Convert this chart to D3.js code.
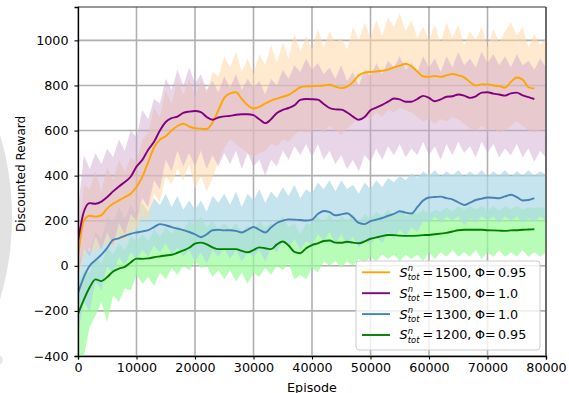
<!DOCTYPE html>
<html>
<head>
<meta charset="utf-8">
<script src="https://cdn.jsdelivr.net/npm/d3@7"></script>
<style>
body { margin: 0; background: #fff; }
svg text { font-family: "DejaVu Sans", sans-serif; fill: #000; }
</style>
</head>
<body>
<svg id="chart" width="569" height="393"></svg>
<script>
// raw episodes for the noisy bands: 0..80000 every 1000
var bandEpisodes = d3.range(0, 80001, 1000);
// smoothed curves stop at 78000
var lineEpisodes = d3.range(0, 78001, 1000);

var xTicks = [0, 10000, 20000, 30000, 40000, 50000, 60000, 70000, 80000];
var yTicks = [-400, -200, 0, 200, 400, 600, 800, 1000];

// smoothed (moving average) curves
var orangeMean = [35,200,222,218,225,255,275,290,305,320,
	350,395,460,525,560,575,600,620,630,618,
	610,608,607,635,690,745,765,770,740,712,
	698,705,720,733,742,750,758,775,792,796,
	797,798,800,803,795,788,795,815,845,857,
	860,862,865,870,880,888,896,885,862,840,
	838,842,838,845,851,845,836,815,800,805,
	805,800,797,790,815,835,826,792,786];
var purpleMean = [108,240,278,275,285,305,330,352,372,395,
	440,470,515,550,600,638,655,662,678,684,
	687,682,660,648,658,663,665,670,672,672,
	668,650,633,650,678,692,700,712,736,740,
	739,737,718,700,694,693,680,662,648,660,
	690,702,714,728,742,738,728,728,740,754,
	745,730,738,750,752,760,755,745,752,768,
	770,764,760,755,765,768,756,748,740];
var blueMean = [-121,-50,0,25,50,80,115,122,133,142,
	148,153,158,172,185,180,172,165,158,150,
	140,127,140,158,160,157,158,155,148,160,
	172,160,148,170,190,200,206,205,203,201,
	205,230,243,238,224,228,233,215,190,185,
	198,205,212,222,230,242,236,232,260,290,
	303,305,307,300,295,282,270,280,292,298,
	303,302,300,308,315,305,290,292,300];
var greenMean = [-214,-150,-95,-60,-68,-50,-25,-12,-5,15,
	32,31,33,38,42,46,49,58,68,80,
	98,103,95,82,74,74,74,74,66,60,
	70,82,78,74,95,108,90,62,56,78,
	92,100,110,112,103,102,107,103,100,108,
	120,126,132,137,136,134,133,133,134,136,
	137,140,143,146,152,158,160,160,160,160,
	158,157,156,155,157,158,160,161,162];

// raw reward envelopes (low / high)
var orangeHi = [150,360,340,420,330,440,380,470,420,480,
	460,560,590,700,660,780,720,820,760,830,
	750,820,770,860,840,930,880,950,860,920,
	850,940,890,980,900,990,920,1030,950,1020,
	960,1050,970,1040,990,1010,960,1060,1000,1080,
	1010,1090,1020,1100,1060,1120,1040,1090,1010,1060,
	1000,1070,990,1080,1010,1070,980,1040,1000,1060,
	970,1050,990,1040,1080,1020,1060,970,1030,980,1010];
var orangeLo = [-60,50,80,60,90,100,80,120,110,150,
	160,220,200,320,280,400,360,430,380,450,
	340,400,330,390,460,520,560,540,520,500,
	480,500,510,540,530,560,550,580,600,590,
	600,610,590,620,600,580,610,630,650,660,
	650,680,660,690,680,700,690,680,660,640,
	650,630,650,640,660,650,630,610,600,620,
	600,610,590,600,620,640,620,600,590,600,610];
var purpleHi = [250,490,430,500,450,520,480,560,510,600,
	570,690,650,740,720,830,780,870,800,880,
	810,850,780,820,770,840,790,850,780,830,
	790,820,760,830,800,870,830,890,860,920,
	870,900,850,880,830,890,820,860,800,870,
	840,900,850,910,880,930,870,900,860,930,
	880,920,860,930,880,950,890,920,880,950,
	900,940,890,930,880,940,890,910,870,920,880];
var purpleLo = [-50,80,40,130,70,150,90,190,140,230,
	200,300,260,380,340,470,420,510,440,500,
	440,510,430,490,440,500,450,510,430,500,
	440,470,400,470,440,510,470,530,490,540,
	480,540,470,510,450,490,430,470,420,490,
	460,520,470,530,490,540,480,520,490,550,
	490,530,470,540,490,550,500,530,480,550,
	500,540,480,520,490,540,480,520,460,510,480];
var blueHi = [0,80,60,150,120,220,190,260,210,270,
	230,280,240,300,270,320,260,310,250,290,
	250,290,240,310,280,320,270,330,260,320,
	290,340,280,330,300,350,310,360,300,340,
	320,370,340,380,330,380,340,360,320,370,
	340,380,350,390,370,400,380,410,390,420,
	400,425,395,420,400,425,395,420,400,425,
	395,420,400,425,395,420,400,425,400,420,405];
var blueLo = [-300,-160,-200,-70,-110,0,-40,40,0,60,
	30,70,40,90,60,100,50,80,40,70,
	20,60,10,70,40,80,30,70,20,60,
	40,70,20,80,60,110,80,120,70,110,
	90,140,110,150,100,140,90,130,80,120,
	90,130,100,150,120,160,130,170,150,200,
	190,220,190,220,200,220,180,210,190,220,
	200,220,190,220,200,220,190,210,195,220,200];
var greenHi = [-80,-20,-30,40,10,80,50,100,70,130,
	110,140,110,160,130,170,140,180,160,200,
	180,220,170,200,160,190,160,190,150,180,
	160,200,170,190,180,220,170,190,140,190,
	180,220,190,230,190,220,200,230,190,230,
	210,240,220,250,220,250,220,240,230,250,
	230,250,240,260,240,265,250,265,250,265,
	245,265,245,265,250,265,250,260,255,260,255];
var greenLo = [-400,-400,-270,-220,-160,-250,-130,-160,-100,-110,
	-40,-80,-50,-90,-30,-60,-10,-40,0,-20,
	20,-10,0,-50,-20,-60,-20,-70,-30,-80,
	-30,-50,-10,-40,0,-20,10,-60,-40,-60,
	-10,-30,20,0,20,-10,20,0,30,10,
	40,20,50,30,50,20,50,30,50,20,
	60,30,60,40,70,40,60,40,70,30,
	60,40,70,40,60,40,70,40,60,40,60];

var seriesNames = ["1500", "1500", "1300", "1200"];
var seriesPhi = ["0.95", "1.0", "1.0", "0.95"];
var lineColors = ["#ffa500", "#800080", "#4682b4", "#008000"];

var svg = d3.select("#chart");
var plotLeft = 78, plotRight = 546, plotTop = 7, plotBottom = 356;

var x = d3.scaleLinear().domain([0, 80000]).range([plotLeft, plotRight]);
var y = d3.scaleLinear().domain([-400, 1148]).range([plotBottom, plotTop]);

// grey blob on the left edge of the picture
svg.append("circle")
	.attr("cx", -278).attr("cy", 217).attr("r", 290)
	.style("fill", "#e2e2e2");
svg.append("circle")
	.attr("cx", -2).attr("cy", 360).attr("r", 5)
	.style("fill", "#e8e8e8");

svg.append("defs").append("clipPath").attr("id", "plotClip")
	.append("rect")
	.attr("x", plotLeft).attr("y", plotTop)
	.attr("width", plotRight - plotLeft).attr("height", plotBottom - plotTop);

svg.append("rect")
	.attr("x", plotLeft).attr("y", plotTop)
	.attr("width", plotRight - plotLeft).attr("height", plotBottom - plotTop)
	.style("fill", "#fff");

//Grid
var grid = svg.append("g").attr("class", "grid");
grid.selectAll("line.gx")
	.data(xTicks).enter()
	.append("line")
	.attr("x1", function(d) {return x(d);})
	.attr("x2", function(d) {return x(d);})
	.attr("y1", plotTop).attr("y2", plotBottom)
	.style("stroke", "#b0b0b0")
	.style("stroke-width", 1.6);
grid.selectAll("line.gy")
	.data(yTicks).enter()
	.append("line")
	.attr("x1", plotLeft).attr("x2", plotRight)
	.attr("y1", function(d) {return y(d);})
	.attr("y2", function(d) {return y(d);})
	.style("stroke", "#b0b0b0")
	.style("stroke-width", 1.6);

//Bands (raw rewards)
var plot = svg.append("g").attr("clip-path", "url(#plotClip)");

var bands = [
	{lo: greenLo, hi: greenHi, fill: "#98fb98", op: 0.7},
	{lo: blueLo, hi: blueHi, fill: "#add8e6", op: 0.7},
	{lo: orangeLo, hi: orangeHi, fill: "#ffd8a8", op: 0.55},
	{lo: purpleLo, hi: purpleHi, fill: "#cca4cc", op: 0.45}
];

var area = d3.area()
	.x(function(d) {return x(d.ep);})
	.y0(function(d) {return y(d.lo);})
	.y1(function(d) {return y(d.hi);});

bands.forEach(function(b) {
	var pts = bandEpisodes.map(function(ep, i) {
		return {ep: ep, lo: b.lo[i], hi: b.hi[i]};
	});
	plot.append("path")
		.datum(pts)
		.attr("d", area)
		.style("fill", b.fill)
		.style("fill-opacity", b.op)
		.style("stroke", "none");
});

//Smoothed lines
var line = d3.line()
	.x(function(d) {return x(d.ep);})
	.y(function(d) {return y(d.v);})
	.curve(d3.curveMonotoneX);

[orangeMean, purpleMean, blueMean, greenMean].forEach(function(vals, k) {
	var pts = lineEpisodes.map(function(ep, i) {return {ep: ep, v: vals[i]};});
	plot.append("path")
		.datum(pts)
		.attr("d", line)
		.style("fill", "none")
		.style("stroke", lineColors[k])
		.style("stroke-width", 1.9);
});

//Spines
svg.append("line").attr("x1", plotLeft).attr("x2", plotRight).attr("y1", plotTop).attr("y2", plotTop)
	.style("stroke", "#333").style("stroke-width", 1.2);
svg.append("line").attr("x1", plotRight).attr("x2", plotRight).attr("y1", plotTop).attr("y2", plotBottom)
	.style("stroke", "#333").style("stroke-width", 1.2);

//Axes
var xAxis = svg.append("g")
	.attr("transform", "translate(0," + plotBottom + ")")
	.call(d3.axisBottom(x).tickValues(xTicks).tickFormat(d3.format("d")).tickSizeOuter(0).tickSize(3.5).tickPadding(3.5));
var yAxis = svg.append("g")
	.attr("transform", "translate(" + plotLeft + ",0)")
	.call(d3.axisLeft(y).tickValues(yTicks).tickFormat(d3.format("d")).tickSizeOuter(0).tickSize(3.5).tickPadding(6));

[xAxis, yAxis].forEach(function(a) {
	a.select(".domain").style("stroke", "#000").style("stroke-width", 1.3);
	a.selectAll(".tick line").style("stroke", "#000").style("stroke-width", 1.1);
	a.selectAll(".tick text")
		.style("font-family", "DejaVu Sans")
		.style("font-size", "12.7px")
		.style("fill", "#000");
});

svg.append("text")
	.attr("x", (plotLeft + plotRight) / 2).attr("y", 392)
	.attr("text-anchor", "middle")
	.style("font-size", "12.7px")
	.text("Episode");

svg.append("text")
	.attr("transform", "translate(25,174) rotate(-90)")
	.attr("text-anchor", "middle")
	.style("font-size", "12px")
	.text("Discounted Reward");

//Legend
var legend = svg.append("g").attr("class", "legend");
legend.append("rect")
	.attr("x", 356).attr("y", 261)
	.attr("width", 184).attr("height", 89)
	.attr("rx", 3)
	.style("fill", "#fff").style("fill-opacity", 0.8)
	.style("stroke", "#cccccc").style("stroke-width", 1);

seriesNames.forEach(function(s, i) {
	var cy = 272.3 + i * 20.9;
	var by = cy + 4.4;
	legend.append("line")
		.attr("x1", 362).attr("x2", 390)
		.attr("y1", cy).attr("y2", cy)
		.style("stroke", lineColors[i])
		.style("stroke-width", 1.9);
	var t = legend.append("text").style("font-size", "12.7px");
	t.append("tspan").attr("x", 399.5).attr("y", by).style("font-style", "italic").text("S");
	t.append("tspan").attr("x", 407.8).attr("y", by - 5.4).style("font-style", "italic").style("font-size", "8.4px").text("n");
	t.append("tspan").attr("x", 407.8).attr("y", by + 3.7).style("font-style", "italic").style("font-size", "8.4px").text("tot");
	t.append("tspan").attr("x", 422.5).attr("y", by).text("=");
	t.append("tspan").attr("x", 435).attr("y", by).text(s + ",");
	t.append("tspan").attr("x", 475).attr("y", by).text("Φ");
	t.append("tspan").attr("x", 485).attr("y", by).text("=");
	t.append("tspan").attr("x", 498).attr("y", by).text(seriesPhi[i]);
});
</script>
</body>
</html>
